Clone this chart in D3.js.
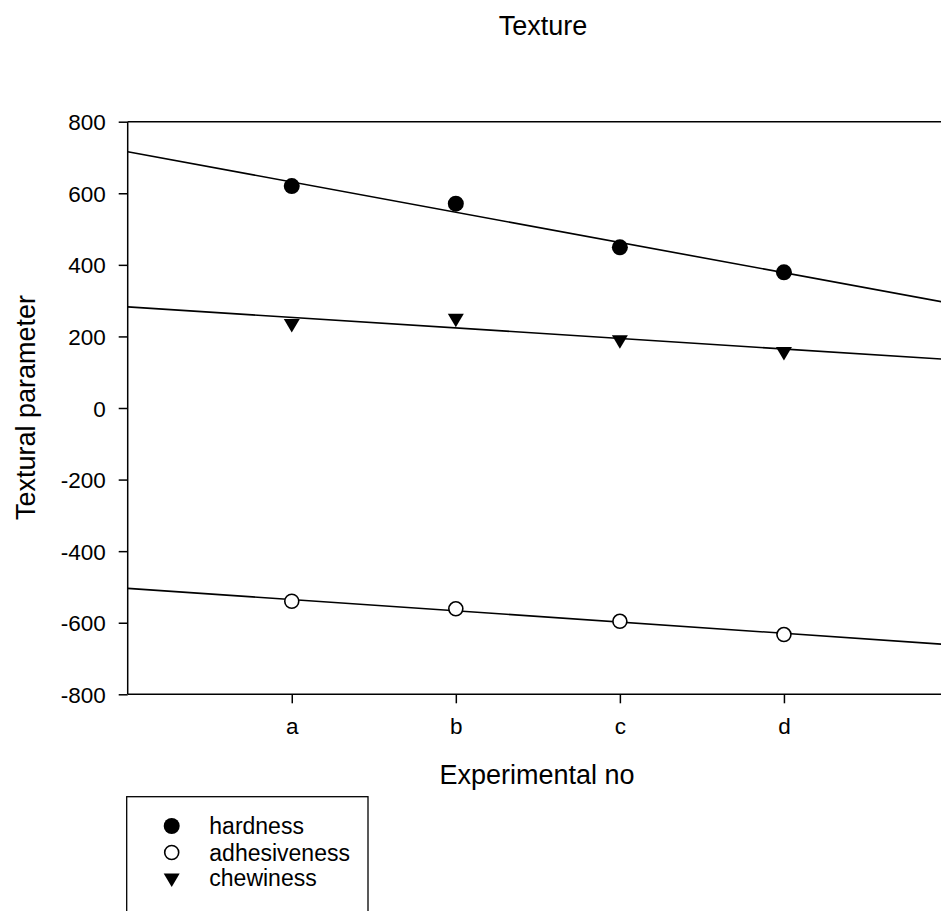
<!DOCTYPE html>
<meta charset="utf-8">
<script src="https://d3js.org/d3.v7.min.js"></script>
<style>
  body { margin: 0; background: #fff; }
  text { font-family: "Liberation Sans", Arial, sans-serif; fill: #000; }
</style>
<body>
<div id="chart"></div>
<script>

var categories = ["a", "b", "c", "d"];
var hardness = [620, 571, 449, 379];
var adhesiveness = [-540, -561, -596, -633];
var chewiness = [236, 251, 191, 158];
var yTicks = [-800, -600, -400, -200, 0, 200, 400, 600, 800];

var width = 941, height = 911;
var margin = { left: 127.7, right: 948, top: 121.7, bottom: 694.3 };

var svg = d3.select("#chart").append("svg")
    .attr("width", width)
    .attr("height", height);

var x = d3.scaleLinear().domain([0, 5]).range([margin.left, margin.right]);
var y = d3.scaleLinear().domain([-800, 800]).range([margin.bottom, margin.top]);

// frame (top + right, right lies outside the picture)
svg.append("path")
  .attr("d", "M" + margin.left + "," + margin.top + "H" + margin.right + "V" + margin.bottom)
  .attr("fill", "none").attr("stroke", "#000").attr("stroke-width", 1.5);

var yAxis = svg.append("g")
  .attr("transform", "translate(" + margin.left + ",0)")
  .call(d3.axisLeft(y).tickValues(yTicks).tickSize(9).tickPadding(13)
        .tickFormat(function(d) { return String(d); }));
yAxis.selectAll("text").style("font-size", "22.5px").attr("dy", "0.36em");

var xAxis = svg.append("g")
  .attr("transform", "translate(0," + margin.bottom + ")")
  .call(d3.axisBottom(x).tickValues([1, 2, 3, 4]).tickSize(9).tickPadding(15)
        .tickFormat(function(d) { return categories[d - 1]; }));
xAxis.selectAll("text").style("font-size", "22.5px");

svg.selectAll(".domain, .tick line").attr("stroke", "#000").attr("stroke-width", 1.5);
xAxis.select(".domain").attr("d", "M" + margin.left + ",0H" + margin.right);
yAxis.select(".domain").attr("d", "M0," + margin.top + "V" + margin.bottom);

// linear fits
function fit(vals) {
  var xs = vals.map(function(d, i) { return i + 1; });
  var mx = d3.mean(xs), my = d3.mean(vals);
  var sxy = d3.sum(xs, function(v, i) { return (v - mx) * (vals[i] - my); });
  var sxx = d3.sum(xs, function(v) { return (v - mx) * (v - mx); });
  var b = sxy / sxx;
  return { a: my - b * mx, b: b };
}

var series = [
  { name: "hardness", values: hardness, marker: "filled" },
  { name: "adhesiveness", values: adhesiveness, marker: "open" },
  { name: "chewiness", values: chewiness, marker: "tri" }
];

var line = d3.line().x(function(d) { return x(d[0]); }).y(function(d) { return y(d[1]); });

series.forEach(function(s) {
  var f = fit(s.values);
  svg.append("path")
    .attr("d", line([[0, f.a], [5, f.a + 5 * f.b]]))
    .attr("fill", "none").attr("stroke", "#000").attr("stroke-width", 1.6);
});

function drawMarker(g, type, cx, cy) {
  if (type === "filled") {
    g.append("circle").attr("cx", cx).attr("cy", cy).attr("r", 8).attr("fill", "#000");
  } else if (type === "open") {
    g.append("circle").attr("cx", cx).attr("cy", cy).attr("r", 7)
      .attr("fill", "#fff").attr("stroke", "#000").attr("stroke-width", 1.6);
  } else {
    var s = 16, h = 13.5;
    g.append("path")
      .attr("d", "M" + (cx - s / 2) + "," + (cy - h / 3) + "L" + (cx + s / 2) + "," + (cy - h / 3) +
                 "L" + cx + "," + (cy + 2 * h / 3) + "Z")
      .attr("fill", "#000");
  }
}

var pts = svg.append("g");
series.forEach(function(s) {
  s.values.forEach(function(v, i) {
    drawMarker(pts, s.marker, x(i + 1), y(v));
  });
});

// titles
svg.append("text").attr("x", 543).attr("y", 35).attr("text-anchor", "middle")
  .style("font-size", "27px").text("Texture");
svg.append("text").attr("x", 537).attr("y", 784).attr("text-anchor", "middle")
  .style("font-size", "27px").text("Experimental no");
svg.append("text").attr("transform", "translate(35,407.5) rotate(-90)").attr("text-anchor", "middle")
  .style("font-size", "27px").text("Textural parameter");

// legend
var lg = svg.append("g");
lg.append("rect").attr("x", 126.7).attr("y", 796.7).attr("width", 241.3).attr("height", 140)
  .attr("fill", "#fff").attr("stroke", "#000").attr("stroke-width", 1.3);
var legendY = [826, 852.5, 878];
series.forEach(function(s, i) {
  drawMarker(lg, s.marker, 171.7, legendY[i]);
  lg.append("text").attr("x", 209.3).attr("y", legendY[i]).attr("dy", "0.35em")
    .style("font-size", "23px").text(s.name);
});

</script>
</body>
